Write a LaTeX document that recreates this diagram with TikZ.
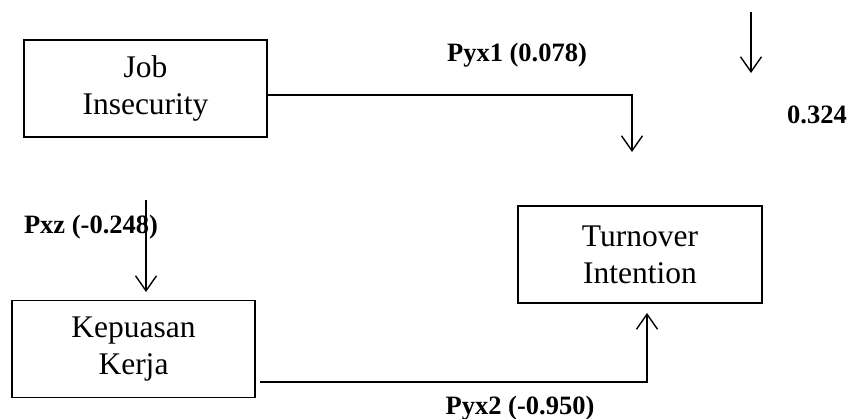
\documentclass[tikz,border=0pt]{standalone}
\usepackage{fontspec}
\setmainfont{Liberation Serif}
\usetikzlibrary{arrows.meta}
\begin{document}
\begin{tikzpicture}[x=1pt,y=1pt,
  box/.style={draw, line width=1.2pt, rectangle, minimum width=243pt, minimum height=97pt, align=center, inner sep=0pt, font=\fontsize{31.5}{37}\selectfont},
  lbl/.style={font=\fontsize{26.5}{30}\selectfont\bfseries, inner sep=0pt},
  conn/.style={line width=1.4pt},
  arr/.style={conn, -{Straight Barb[length=15pt,width=21pt,line width=1.4pt]}}]
\useasboundingbox (0,0) rectangle (848,-419);
\node[box] (job) at (145.5,-88.5) {Job\\Insecurity};
\node[box] (kep) at (133.5,-349) {Kepuasan\\Kerja};
\node[box, minimum width=244pt] (turn) at (640,-254.5) {Turnover\\Intention};
\node[lbl] (l1) at (517,-55) {Pyx1 (0.078)};
\node[lbl] (l0) at (817,-115) {0.324};
\node[lbl] (l2) at (91,-227) {Pxz (-0.248)};
\node[lbl] (l3) at (520,-408) {Pyx2 (-0.950)};
\coordinate (a1) at (267,-95);
\coordinate (t1) at (632,-152);
\draw[arr] (a1) -| (t1);
\coordinate (e0s) at (751,-12);
\coordinate (e0t) at (751,-73);
\draw[arr] (e0s) -- (e0t);
\coordinate (zs) at (146,-200);
\coordinate (zt) at (146,-292);
\draw[arr] (zs) -- (zt);
\coordinate (b1) at (260,-382);
\coordinate (t2) at (647,-313);
\draw[arr] (b1) -| (t2);
\end{tikzpicture}
\end{document}
